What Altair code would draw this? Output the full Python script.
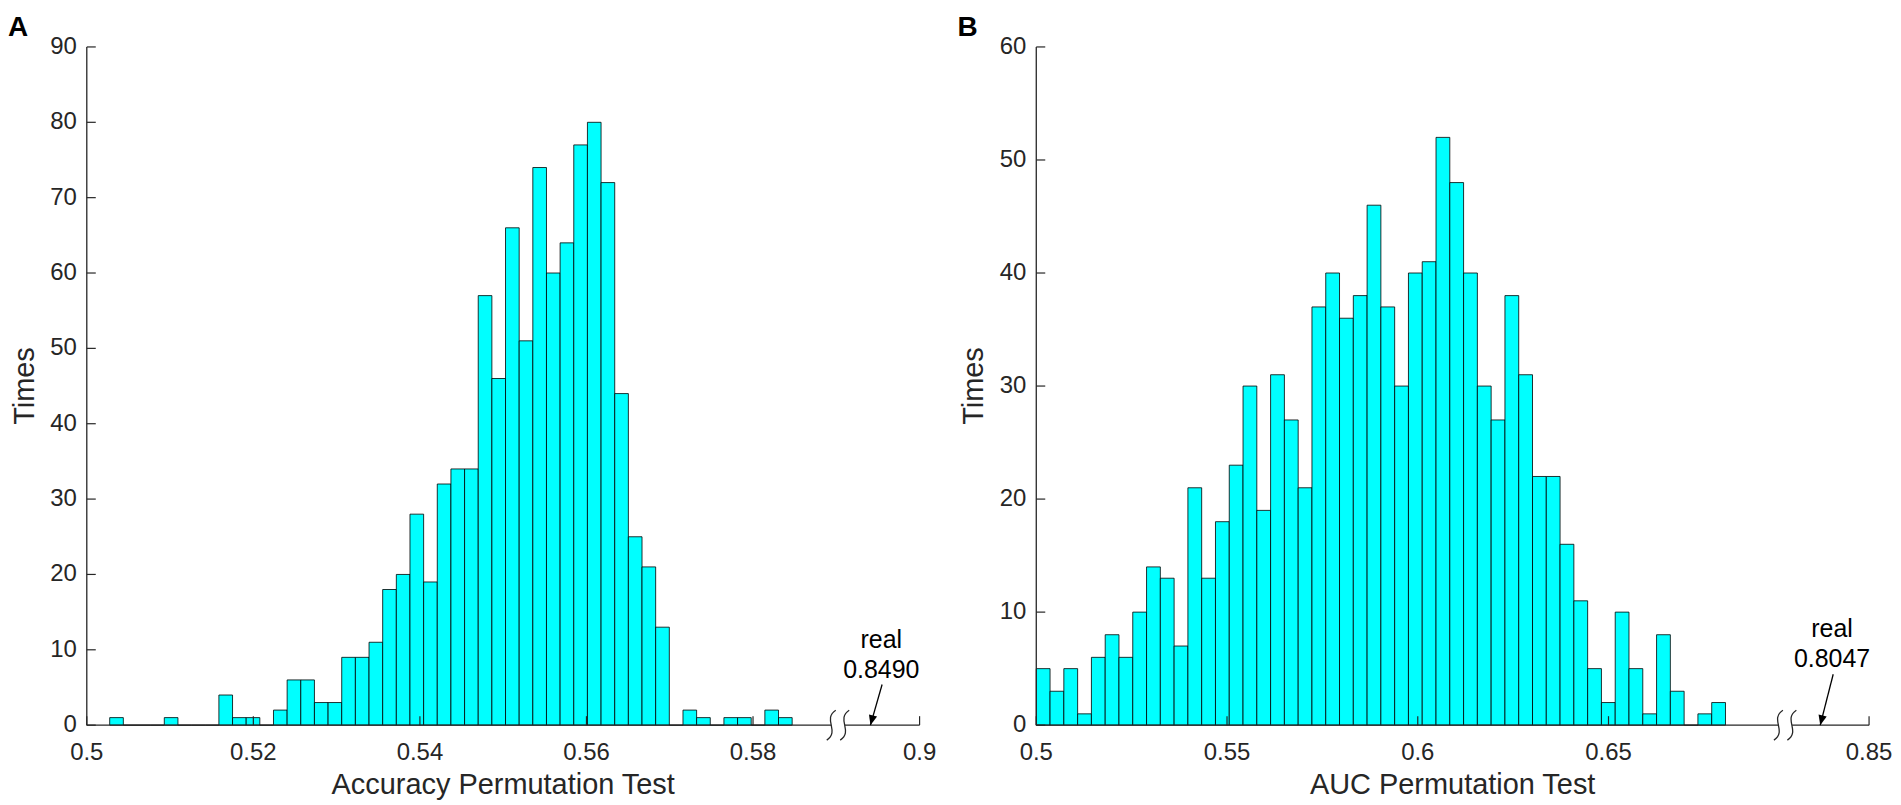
import altair as alt
import pandas as pd

# ---------------- data ----------------
# Panel A: Accuracy permutation test (50 bins)
acc_counts = [1, 0, 0, 0, 1, 0, 0, 0, 4, 1,
              1, 0, 2, 6, 6, 3, 3, 9, 9, 11,
              18, 20, 28, 19, 32, 34, 34, 57, 46, 66,
              51, 74, 60, 64, 77, 80, 72, 44, 25, 21,
              13, 0, 2, 1, 0, 1, 1, 0, 2, 1]
acc_bin_start = 0.50275
acc_bin_width = 0.001639
acc_xdomain = [0.5, 0.6]
acc_xticks = [0.5, 0.52, 0.54, 0.56, 0.58, 0.6]
acc_xlabels = ["0.5", "0.52", "0.54", "0.56", "0.58", "0.9"]
acc_yticks = [0, 10, 20, 30, 40, 50, 60, 70, 80, 90]
acc_ylabels = ["0", "10", "20", "30", "40", "50", "60", "70", "80", "90"]
acc_ydomain = [0, 90]
acc_break_x = 0.5902
acc_arrow = {"x": [0.5955], "y": [5.4], "x2": [0.5941], "y2": [0]}
acc_text_x = 0.5954
acc_text = ["real", "0.8490"]
acc_text_y = [11.25, 7.28]

# Panel B: AUC permutation test (50 bins)
auc_counts = [5, 3, 5, 1, 6, 8, 6, 10, 14, 13,
              7, 21, 13, 18, 23, 30, 19, 31, 27, 21,
              37, 40, 36, 38, 46, 37, 30, 40, 41, 52,
              48, 40, 30, 27, 38, 31, 22, 22, 16, 11,
              5, 2, 10, 5, 1, 8, 3, 0, 1, 2]
auc_bin_start = 0.5
auc_bin_width = 0.0036133
auc_xdomain = [0.5, 0.7183]
auc_xticks = [0.5, 0.55, 0.6, 0.65, 0.7183]
auc_xlabels = ["0.5", "0.55", "0.6", "0.65", "0.85"]
auc_yticks = [0, 10, 20, 30, 40, 50, 60]
auc_ylabels = ["0", "10", "20", "30", "40", "50", "60"]
auc_ydomain = [0, 60]
auc_break_x = 0.6963
auc_arrow = {"x": [0.7089], "y": [4.5], "x2": [0.7055], "y2": [0]}
auc_text_x = 0.7086
auc_text = ["real", "0.8047"]
auc_text_y = [8.47, 5.82]

# ---------------- styling ----------------
W, H = 835, 680
FONT = "Liberation Sans"
AXCOL = "#262626"
TICK_FS = 24
TITLE_FS = 29
ANN_FS = 25
BREAK_PATH = ("M-0.15,-1 C-1.05,-0.4 0.15,0.4 -0.75,1 "
              "M0.75,-1 C-0.15,-0.4 1.05,0.4 0.15,1")
HEAD_PATH = "M0,0 L-0.42,-1 L0.42,-1 Z"


def panel(letter, counts, start, width, xdomain, xticks, xlabels, yticks,
          ylabels, ydomain, break_x, arrow, text_x, texts, text_y, xtitle,
          head_angle):
    bars = pd.DataFrame({
        "x0": [start + i * width for i in range(len(counts))],
        "x1": [start + (i + 1) * width for i in range(len(counts))],
        "n": counts,
    })
    xs = alt.Scale(domain=xdomain, nice=False, zero=False)
    ys = alt.Scale(domain=ydomain, nice=False, zero=True)

    def X(f):
        return alt.X(f, scale=xs, axis=None)

    def Y(f):
        return alt.Y(f, scale=ys, axis=None)

    hist = alt.Chart(bars).mark_rect(
        fill="#00FFFF", stroke="#000000", strokeWidth=0.8
    ).encode(x=X("x0:Q"), x2="x1:Q", y=Y("n:Q"), y2=alt.datum(0))

    # axis lines
    xdom = alt.Chart(pd.DataFrame({"d": [0]})).mark_rule(
        color=AXCOL, strokeWidth=1.3
    ).encode(x=alt.value(0), x2=alt.value(W), y=alt.value(H))
    ydom = alt.Chart(pd.DataFrame({"d": [0]})).mark_rule(
        color=AXCOL, strokeWidth=1.3
    ).encode(x=alt.value(0), y=alt.value(0), y2=alt.value(H))

    ydf = pd.DataFrame({"v": yticks, "l": ylabels})
    xdf = pd.DataFrame({"v": xticks, "l": xlabels})

    ytk = alt.Chart(ydf).mark_rule(color=AXCOL, strokeWidth=1.2).encode(
        y=Y("v:Q"), x=alt.value(0), x2=alt.value(9))
    xtk = alt.Chart(xdf).mark_rule(color=AXCOL, strokeWidth=1.2).encode(
        x=X("v:Q"), y=alt.value(H), y2=alt.value(H - 9))

    ylab = alt.Chart(ydf).mark_text(
        font=FONT, fontSize=TICK_FS, color=AXCOL, align="right", baseline="middle"
    ).encode(y=Y("v:Q"), x=alt.value(-10), text="l:N")
    xlab = alt.Chart(xdf).mark_text(
        font=FONT, fontSize=TICK_FS, color=AXCOL, align="center",
        baseline="alphabetic"
    ).encode(x=X("v:Q"), y=alt.value(H + 35), text="l:N")

    xttl = alt.Chart(pd.DataFrame({"t": [xtitle]})).mark_text(
        font=FONT, fontSize=TITLE_FS, color=AXCOL, align="center",
        baseline="alphabetic"
    ).encode(x=alt.value(W / 2), y=alt.value(H + 69), text="t:N")
    yttl = alt.Chart(pd.DataFrame({"t": ["Times"]})).mark_text(
        font=FONT, fontSize=TITLE_FS, color=AXCOL, align="center",
        baseline="alphabetic", angle=270
    ).encode(x=alt.value(-53), y=alt.value(H / 2), text="t:N")

    brk_df = pd.DataFrame({"bx": [break_x], "by": [0]})
    gap = alt.Chart(brk_df).mark_point(
        shape="M-1,0 L1,0", filled=False, stroke="white", strokeWidth=3,
        size=196, opacity=1
    ).encode(x=X("bx:Q"), y=Y("by:Q"))
    brk = alt.Chart(brk_df).mark_point(
        shape=BREAK_PATH, filled=False, stroke=AXCOL, strokeWidth=1.3,
        size=900, opacity=1
    ).encode(x=X("bx:Q"), y=Y("by:Q"))

    arr_df = pd.DataFrame(arrow)
    shaft = alt.Chart(arr_df).mark_rule(color="black", strokeWidth=1.3).encode(
        x=X("x:Q"), y=Y("y:Q"), x2="x2:Q", y2="y2:Q")
    head = alt.Chart(arr_df).mark_point(
        shape=HEAD_PATH, filled=True, color="black", size=400, opacity=1,
        angle=head_angle
    ).encode(x=X("x2:Q"), y=Y("y2:Q"))

    txt = alt.Chart(pd.DataFrame({"t": texts, "tx": [text_x] * len(texts),
                                  "ty": text_y})).mark_text(
        font=FONT, fontSize=ANN_FS, color="black", align="center",
        baseline="middle"
    ).encode(x=X("tx:Q"), y=Y("ty:Q"), text="t:N")

    lab = alt.Chart(pd.DataFrame({"l": [letter]})).mark_text(
        font=FONT, fontSize=28, fontWeight="bold", color="black",
        align="left", baseline="top"
    ).encode(x=alt.value(-79), y=alt.value(-33), text="l:N")

    return alt.layer(hist, xdom, ydom, ytk, xtk, ylab, xlab, xttl, yttl,
                     gap, brk, shaft, head, txt, lab).properties(width=W, height=H)


pA = panel("A", acc_counts, acc_bin_start, acc_bin_width, acc_xdomain,
           acc_xticks, acc_xlabels, acc_yticks, acc_ylabels, acc_ydomain,
           acc_break_x, acc_arrow, acc_text_x, acc_text, acc_text_y,
           "Accuracy Permutation Test", 15)
pB = panel("B", auc_counts, auc_bin_start, auc_bin_width, auc_xdomain,
           auc_xticks, auc_xlabels, auc_yticks, auc_ylabels, auc_ydomain,
           auc_break_x, auc_arrow, auc_text_x, auc_text, auc_text_y,
           "AUC Permutation Test", 14)

chart = alt.hconcat(pA, pB, spacing=21).properties(
    padding={"left": 0, "top": 5, "right": 0, "bottom": 0},
    background="white",
).configure_view(strokeWidth=0)

chart.save("out.html", embed_options={"renderer": "svg", "actions": False})
